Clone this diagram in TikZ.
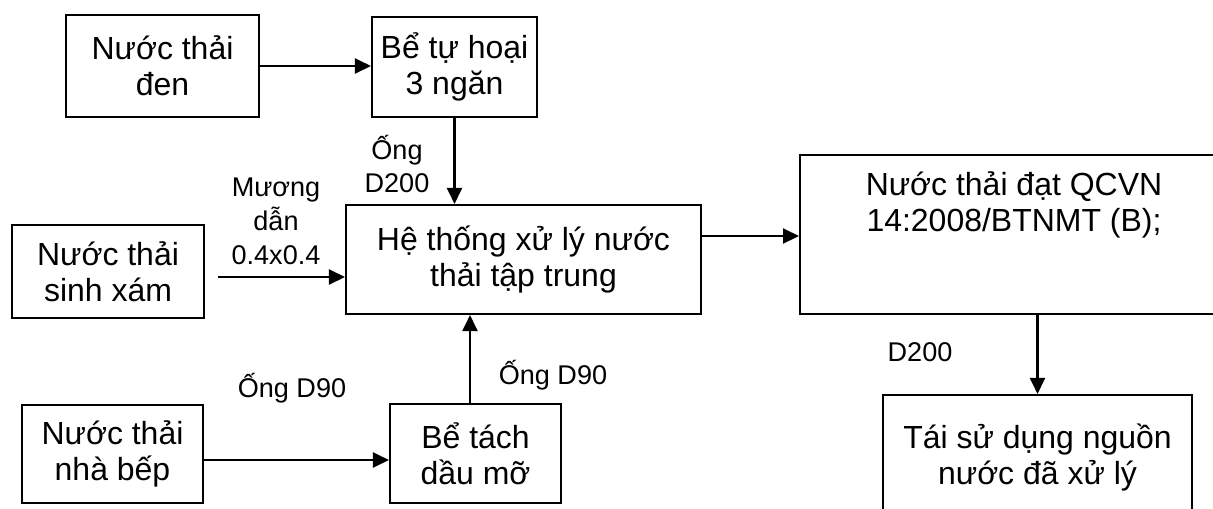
\documentclass[tikz,border=0pt]{standalone}
\usepackage{fontspec}
\setmainfont{Liberation Sans}
\usetikzlibrary{arrows.meta,positioning}
\begin{document}
\begin{tikzpicture}[x=0.02cm,y=-0.02cm,
  box/.style={draw,line width=1.2pt,align=center,inner sep=0pt,font=\fontsize{18.2}{20.6}\selectfont},
  boxtext/.style={align=center,inner sep=0pt,font=\fontsize{18.2}{20.6}\selectfont},
  lbl/.style={align=center,inner sep=0pt,font=\fontsize{15.4}{19.3}\selectfont},
  arr/.style={line width=1.2pt,-{Triangle[length=0.32cm,width=0.3cm]}}]
\path[use as bounding box] (0,0) rectangle (1213,508);
\clip (0,0) rectangle (1213,508);
\node[box,minimum width=3.86cm,minimum height=2.04cm] (den) at (162.5,66) {Nước thải\\đen};
\node[box,minimum width=3.30cm,minimum height=2.00cm] (tuhoai) at (454.5,67) {Bể tự hoại\\3 ngăn};
\node[box,minimum width=3.84cm,minimum height=1.86cm] (xam) at (108,271.5) {Nước thải\\sinh xám};
\node[box,minimum width=7.10cm,minimum height=2.18cm] (httt) at (523.5,259.5) {Hệ thống xử lý nước\\thải tập trung};
\node[box,minimum width=8.56cm,minimum height=3.18cm] (qcvn) at (1014,234.5) {};
\node[boxtext] (qcvntext) at (1014,205) {Nước thải đạt QCVN\\14:2008/BTNMT (B);};
\node[box,minimum width=3.42cm,minimum height=1.98cm] (tach) at (475.5,453.5) {Bể tách\\dầu mỡ};
\node[box,minimum width=3.62cm,minimum height=1.96cm] (bep) at (112.5,454) {Nước thải\\nhà bếp};
\node[box,minimum width=6.18cm,minimum height=2.50cm] (taisd) at (1037.5,457.5) {Tái sử dụng nguồn\\nước đã xử lý};
\node[lbl] (ongtren) at (397,164) {Ống\\D200};
\node[lbl] (muong) at (276,221) {Mương\\dẫn\\0.4x0.4};
\node[lbl] (ongbep) at (292,388) {Ống D90};
\node[lbl] (ongtach) at (553,375) {Ống D90};
\node[lbl] (dra) at (920,352) {D200};
\coordinate (xamout) at (218,277);
\coordinate (htttout) at ([yshift=0.47cm]httt.east);
\coordinate (bepout) at ([yshift=-0.12cm]bep.east);
\coordinate (tachout) at ([xshift=-0.11cm]tach.north);
\draw[arr] (den.east) -- (den.east -| tuhoai.west);
\draw[arr] (tuhoai.south) -- (tuhoai.south |- httt.north);
\draw[arr] (xamout) -- (xamout -| httt.west);
\draw[arr] (htttout) -- (htttout -| qcvn.west);
\draw[arr] (taisd.north |- qcvn.south) -- (taisd.north);
\draw[arr] (bepout) -- (bepout -| tach.west);
\draw[arr] (tachout) -- (tachout |- httt.south);
\end{tikzpicture}
\end{document}
